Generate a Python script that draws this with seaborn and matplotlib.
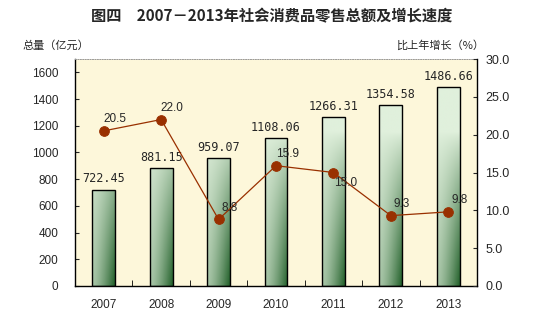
import numpy as np
import pandas as pd
import matplotlib
matplotlib.use("Agg")
import matplotlib.pyplot as plt
from matplotlib.colors import to_rgb
import seaborn as sns

years = ["2007", "2008", "2009", "2010", "2011", "2012", "2013"]
totals = [722.45, 881.15, 959.07, 1108.06, 1266.31, 1354.58, 1486.66]
growth = [20.5, 22.0, 8.8, 15.9, 15.0, 9.3, 9.8]
left_ticks = [0, 200, 400, 600, 800, 1000, 1200, 1400, 1600]
right_ticks = [0, 5, 10, 15, 20, 25, 30]

title = "图四　2007－2013年社会消费品零售总额及增长速度"
left_label = "总量（亿元）"
right_label = "比上年增长（%）"

sns.set_style("ticks")
plt.rcParams["font.family"] = ["Liberation Sans", "DejaVu Sans"]

df = pd.DataFrame({"year": years, "total": totals, "growth": growth})

fig = plt.figure(figsize=(5.6, 3.27), dpi=100)
ax = fig.add_axes([75 / 560, 41 / 327, 402 / 560, 227 / 327])
ax.set_facecolor("#FDF7DA")

sns.barplot(data=df, x="year", y="total", ax=ax, width=0.4, color="#DCEFD8",
            edgecolor="black", linewidth=1.0, zorder=3)

YMAX = 1700
ax.set_ylim(0, YMAX)
ax.set_xlim(-0.5, len(years) - 0.5)

# gradient fill for bars
light = np.array(to_rgb("#E0F0DC"))
dark = np.array(to_rgb("#22602A"))
ny, nx = 200, 40
yy = np.linspace(0, YMAX, ny)[:, None]
xx = np.linspace(0, 1, nx)[None, :]
v = np.clip((1150 - yy) / 1150, 0, 1) ** 0.8
h = 0.3 + 0.7 * xx ** 1.4
t = np.clip(v * h, 0, 1)[..., None]
img = light * (1 - t) + dark * t
for p in ax.patches:
    x0 = p.get_x()
    w = p.get_width()
    p.set_facecolor("none")
    im = ax.imshow(img, extent=[x0, x0 + w, 0, YMAX], origin="lower",
                   aspect="auto", zorder=2, interpolation="bilinear")
    im.set_clip_path(p)
ax.set_ylim(0, YMAX)
ax.set_xlim(-0.5, len(years) - 0.5)

for p, val in zip(ax.patches, totals):
    ax.annotate(f"{val:.2f}", (p.get_x() + p.get_width() / 2, p.get_height()),
                xytext=(0, 3), textcoords="offset points", ha="center",
                va="bottom", fontsize=8.5, family="DejaVu Sans Mono", zorder=5)

ax.set_yticks(left_ticks)
ax.set_yticklabels([str(v) for v in left_ticks])
ax.tick_params(axis="y", direction="in", length=3, pad=12, labelsize=8.5)
ax.set_xticks(range(len(years)))
ax.set_xticklabels(years)
ax.tick_params(axis="x", which="major", length=0, pad=9, labelsize=8.5)
ax.set_xticks(np.arange(len(years) - 1) + 0.5, minor=True)
ax.tick_params(axis="x", which="minor", direction="in", length=4, color="black")
ax.set_xlabel("")
ax.set_ylabel("")
for s in ["left", "bottom"]:
    ax.spines[s].set_color("black")
    ax.spines[s].set_linewidth(1.0)
ax.spines["top"].set_visible(True)
ax.spines["top"].set_linestyle((0, (1, 1.5)))
ax.spines["top"].set_linewidth(0.7)
ax.spines["top"].set_color("#999999")
ax.spines["right"].set_visible(False)

ax2 = ax.twinx()
sns.pointplot(data=df, x="year", y="growth", ax=ax2, color="#993000",
              markers="o", markersize=7, linewidth=0.9)
ax2.set_ylim(0, 30)
ax2.set_xlim(-0.5, len(years) - 0.5)
ax2.set_yticks(right_ticks)
ax2.set_yticklabels([f"{v:.1f}" for v in right_ticks])
ax2.tick_params(axis="y", direction="in", length=3, pad=6, labelsize=9)
ax2.set_ylabel("")
ax2.set_xlabel("")
for s in ["top", "left", "bottom"]:
    ax2.spines[s].set_visible(False)
ax2.spines["right"].set_visible(True)
ax2.spines["right"].set_color("black")
ax2.spines["right"].set_linewidth(1.0)

for i, g in enumerate(growth):
    below = i > 0 and i + 1 < len(growth) and growth[i - 1] > g > growth[i + 1] and g < 15.5
    if below:
        ax2.annotate(f"{g:.1f}", (i, g), xytext=(9, -3), textcoords="offset points",
                     ha="center", va="top", fontsize=8.5)
    else:
        ax2.annotate(f"{g:.1f}", (i, g), xytext=(8, 4), textcoords="offset points",
                     ha="center", va="bottom", fontsize=8.5)

fig.text(272 / 560, 1 - 16 / 327, title, ha="center", va="center", fontsize=11,
         fontweight="bold", family=["Noto Sans CJK SC", "DejaVu Sans"])
fig.text(22 / 560, 1 - 45 / 327, left_label, ha="left", va="center", fontsize=8,
         family=["Noto Sans CJK SC", "DejaVu Sans"])
fig.text(484 / 560, 1 - 45 / 327, right_label, ha="right", va="center", fontsize=8,
         family=["Noto Sans CJK SC", "DejaVu Sans"])

fig.savefig("out.png", dpi=100)
